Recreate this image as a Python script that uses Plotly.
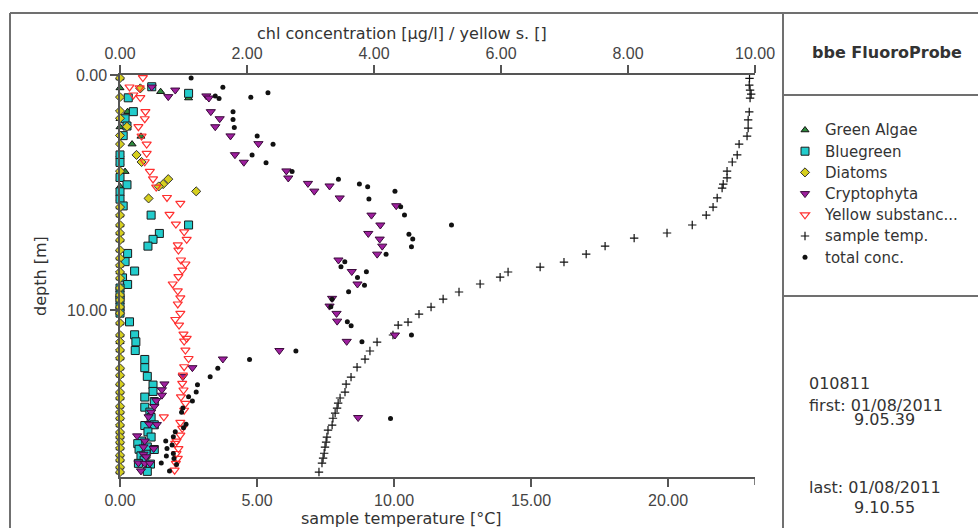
import plotly.graph_objects as go

# ---------------- data ----------------
# sample temperature [°C] vs depth [m]  (bottom axis)
temp_depth = [0.14, 0.43, 0.64, 0.81, 0.98, 1.57, 1.91, 2.26, 2.60, 2.94,
              3.40, 3.70, 4.09, 4.38, 4.64, 4.81, 5.23, 5.62, 5.96, 6.38,
              6.72, 6.94, 7.28, 7.62, 7.96, 8.17, 8.38, 8.60, 8.89, 9.23,
              9.53, 9.87, 10.17, 10.51, 10.64, 11.06, 11.36, 11.74, 12.09, 12.43,
              12.85, 13.15, 13.49, 13.74, 13.96, 14.17, 14.38, 14.60, 14.89, 15.11,
              15.40, 15.62, 15.83, 16.09, 16.30, 16.51, 16.89]
temp_value = [22.97, 22.96, 22.99, 23.03, 22.99, 22.96, 22.92, 22.92, 22.88, 22.59,
              22.52, 22.34, 22.15, 22.15, 22.01, 21.97, 21.79, 21.64, 21.39, 20.88,
              19.96, 18.76, 17.70, 17.01, 16.20, 15.33, 14.16, 13.87, 13.14, 12.37,
              11.79, 11.35, 10.91, 10.51, 10.15, 9.96, 9.38, 9.12, 8.94, 8.65,
              8.43, 8.25, 8.21, 8.03, 7.96, 7.92, 7.85, 7.77, 7.74, 7.59,
              7.55, 7.52, 7.48, 7.45, 7.41, 7.37, 7.26]

# total chl concentration [µg/l] (top axis)
total_depth = [0.13, 0.52, 0.75, 0.89, 0.95, 1.00, 1.56, 1.89, 2.23, 2.60,
               2.95, 3.40, 3.73, 4.11, 4.43, 4.64, 4.75, 4.94, 5.27, 5.60,
               5.96, 6.38, 6.77, 6.98, 7.31, 7.62, 7.94, 8.16, 8.37, 8.61,
               8.94, 9.22, 9.54, 9.86, 10.50, 10.67, 11.06, 11.35, 11.74, 12.10,
               12.47, 12.84, 13.18, 13.48, 13.69, 13.87, 14.17, 14.35, 14.61, 14.86,
               15.01, 15.18, 15.39, 15.57, 15.74, 15.89, 16.10, 16.21, 16.31, 16.50,
               16.57, 16.85]
total_conc = [1.12, 1.62, 2.33, 1.50, 2.06, 1.56, 1.78, 1.78, 1.80, 2.16,
              2.41, 2.08, 2.30, 2.71, 3.44, 3.77, 3.90, 4.33, 3.92, 4.42,
              4.48, 5.22, 4.55, 4.61, 4.59, 4.19, 3.54, 3.48, 3.88, 3.74,
              3.85, 3.60, 3.34, 3.32, 3.58, 3.64, 4.59, 3.81, 2.77, 2.04,
              1.54, 1.42, 1.22, 1.20, 1.08, 1.14, 0.99, 0.97, 4.26, 1.04,
              1.00, 0.87, 0.84, 0.72, 0.82, 0.74, 0.84, 0.73, 0.85, 0.65,
              0.89, 0.78]

# Cryptophyta
crypto_depth = [0.51, 0.64, 0.92, 0.89, 0.98, 1.56, 1.86, 2.20, 2.59, 2.92,
                3.39, 3.71, 4.08, 4.38, 4.61, 4.72, 4.94, 5.23, 5.56, 5.96,
                6.38, 6.74, 6.98, 7.28, 7.62, 7.87, 8.36, 8.89, 9.50, 9.83,
                10.14, 10.47, 11.06, 11.33, 11.72, 12.08, 12.45, 12.83, 13.14, 13.39,
                13.62, 13.85, 14.10, 14.34, 14.54, 14.57, 14.85, 14.87, 15.35, 15.57,
                15.82, 15.89, 16.13, 16.24, 16.50, 16.52, 16.52, 16.84]
crypto_conc = [0.50, 0.87, 0.76, 1.36, 1.40, 1.43, 1.57, 1.50, 1.74, 2.18,
               1.81, 1.95, 2.62, 2.65, 2.96, 3.30, 3.06, 3.46, 4.35, 3.96,
               4.10, 3.91, 4.09, 4.13, 4.05, 3.44, 3.65, 3.74, 3.34, 3.30,
               3.41, 3.42, 4.33, 3.57, 2.51, 1.62, 1.14, 0.99, 0.70, 0.66,
               0.66, 0.57, 0.54, 0.49, 0.45, 3.75, 0.46, 0.58, 0.27, 0.39,
               0.37, 0.53, 0.37, 0.41, 0.29, 0.39, 0.47, 0.33]

# Yellow substance
yellow_depth = [0.11, 0.51, 0.55, 0.85, 0.96, 1.56, 1.86, 2.20, 2.60, 2.94,
                3.33, 3.69, 4.10, 4.42, 4.77, 5.21, 5.46, 5.93, 6.34, 6.67,
                6.99, 7.23, 7.45, 7.87, 8.04, 8.30, 8.58, 8.89, 9.18, 9.48,
                9.74, 10.14, 10.40, 10.64, 11.02, 11.20, 11.32, 11.70, 12.06, 12.41,
                12.77, 13.12, 13.40, 13.69, 13.97, 14.26, 14.54, 14.78, 15.03, 15.32,
                15.57, 15.67, 15.89, 16.10, 16.31, 16.52, 16.81]
yellow_conc = [0.36, 0.15, 0.31, 0.21, 0.32, 0.40, 0.39, 0.29, 0.34, 0.42,
               0.42, 0.39, 0.47, 0.52, 0.57, 0.74, 0.95, 0.78, 0.88, 1.01,
               1.05, 0.91, 0.92, 0.96, 1.03, 0.98, 0.92, 0.83, 0.91, 0.95,
               0.91, 0.95, 0.87, 0.93, 1.00, 1.05, 1.01, 1.03, 1.08, 1.01,
               0.99, 0.98, 1.00, 0.96, 1.03, 1.01, 0.69, 0.95, 0.98, 0.95,
               0.89, 0.87, 0.92, 0.89, 0.91, 0.88, 0.86]

# Bluegreen
blue_depth = [0.50, 0.78, 0.97, 1.56, 1.86, 2.17, 2.58, 3.40, 3.72, 4.36,
              4.67, 4.97, 5.28, 5.57, 5.96, 6.38, 6.74, 6.99, 7.28, 7.59,
              7.94, 8.34, 8.63, 8.91, 9.06, 9.36, 9.57, 9.87, 10.13, 10.50,
              11.05, 11.35, 11.72, 12.10, 12.45, 12.82, 13.19, 13.46, 13.70, 13.89,
              14.13, 14.34, 14.57, 14.88, 14.91, 15.18, 15.40, 15.57, 15.68, 15.82,
              15.92, 15.93, 16.13, 16.20, 16.38, 16.52, 16.55, 16.86]
blue_conc = [0.50, 1.08, 0.13, 0.21, 0.08, 0.11, 0.05, 0.00, 0.00, 0.00,
             0.11, 0.00, 0.00, 0.05, 0.49, 1.08, 0.62, 0.52, 0.44, 0.12,
             0.08, 0.23, 0.04, 0.12, 0.00, 0.00, 0.00, 0.00, 0.00, 0.15,
             0.23, 0.25, 0.24, 0.39, 0.39, 0.43, 0.52, 0.52, 0.39, 0.54,
             0.39, 0.47, 0.49, 0.54, 0.39, 0.44, 0.49, 0.34, 0.28, 0.43,
             0.30, 0.54, 0.41, 0.33, 0.38, 0.29, 0.48, 0.43]

# Green Algae
green_depth = [0.13, 0.55, 0.71, 0.98, 1.56, 1.86, 2.21, 2.61, 2.94, 3.40,
               3.72, 4.11, 4.40, 4.75, 5.25, 5.62, 5.96, 6.38, 6.72, 7.02,
               7.45, 7.79, 8.09, 8.38, 8.64, 9.06, 9.36, 9.57, 9.87, 10.13,
               10.55, 11.06, 11.35, 11.70, 12.04, 12.47, 12.77, 13.15, 13.49, 13.74,
               14.09, 14.34, 14.60, 14.89, 15.19, 15.40, 15.62, 15.87, 16.17, 16.38,
               16.68, 16.89]
green_conc = [0.00, 0.00, 0.64, 1.08, 0.12, 0.00, 0.00, 0.33, 0.19, 0.00,
              0.00, 0.08, 0.00, 0.00, 0.00, 0.00, 0.00, 0.00, 0.00, 0.00,
              0.00, 0.00, 0.00, 0.00, 0.00, 0.00, 0.00, 0.00, 0.00, 0.00,
              0.00, 0.00, 0.00, 0.00, 0.00, 0.00, 0.00, 0.00, 0.00, 0.00,
              0.00, 0.00, 0.00, 0.00, 0.00, 0.00, 0.00, 0.00, 0.00, 0.00,
              0.00, 0.00]

# Diatoms
diatom_depth = [0.13, 0.57, 0.94, 1.53, 1.84, 2.20, 2.57, 2.94, 3.40, 3.70,
                4.09, 4.43, 4.64, 4.74, 4.95, 5.25, 5.62, 5.96, 6.38, 6.72,
                7.02, 7.45, 7.79, 8.09, 8.38, 8.64, 9.06, 9.36, 9.57, 9.87,
                10.13, 10.55, 11.06, 11.35, 11.70, 12.04, 12.47, 12.77, 13.15, 13.49,
                13.74, 14.09, 14.34, 14.60, 14.89, 15.19, 15.40, 15.62, 15.87, 16.17,
                16.38, 16.68, 16.89]
diatom_conc = [0.00, 0.32, 0.00, 0.00, 0.00, 0.11, 0.00, 0.00, 0.26, 0.34,
               0.00, 0.76, 0.68, 0.61, 1.20, 0.45, 0.00, 0.00, 0.00, 0.00,
               0.00, 0.00, 0.00, 0.00, 0.00, 0.00, 0.00, 0.00, 0.00, 0.00,
               0.00, 0.00, 0.00, 0.00, 0.00, 0.00, 0.00, 0.00, 0.00, 0.00,
               0.00, 0.00, 0.00, 0.00, 0.00, 0.00, 0.00, 0.00, 0.00, 0.00,
               0.00, 0.00, 0.00]

for a, b in [(temp_depth, temp_value), (total_depth, total_conc), (crypto_depth, crypto_conc),
             (yellow_depth, yellow_conc), (blue_depth, blue_conc), (green_depth, green_conc),
             (diatom_depth, diatom_conc)]:
    assert len(a) == len(b), (len(a), len(b))

conc_ticks = [0, 2, 4, 6, 8, 10]
temp_ticks = [0, 5, 10, 15, 20]
depth_ticks = [0, 10]
CONC_MAX = 10.0
TEMP_MAX = 23.17
DEPTH_MAX = 17.1

# ---------------- figure ----------------
W, H = 978, 528
FONT = "DejaVu Sans"
TICKFONT = "Liberation Sans"
TXT = "#333333"
AX = "#555555"

def px(x):
    return x / W

def py(y):
    return 1 - y / H

def lname(s):
    return '<span style="font-size:15px">' + s + '</span>'

fig = go.Figure()

def add(name, x, y, axis, marker):
    fig.add_trace(go.Scatter(x=x, y=y, xaxis=axis, yaxis="y", mode="markers",
                             name=lname(name), marker=marker, cliponaxis=False,
                             hoverinfo="x+y"))

add("Green Algae", green_conc, green_depth, "x2",
    dict(symbol="triangle-up", size=7, color="#2E8B3E", line=dict(color="#111", width=1)))
add("Bluegreen", blue_conc, blue_depth, "x2",
    dict(symbol="square", size=8, color="#22CCCC", line=dict(color="#1A1A1A", width=1)))
add("Diatoms", diatom_conc, diatom_depth, "x2",
    dict(symbol="diamond", size=7, color="#D6CF1E", line=dict(color="#333", width=1)))
add("Cryptophyta", crypto_conc, crypto_depth, "x2",
    dict(symbol="triangle-down", size=8, color="#9E1F9E", line=dict(color="#3A0A3A", width=1)))
add("Yellow substanc...", yellow_conc, yellow_depth, "x2",
    dict(symbol="triangle-down-open", size=8, color="#FF3030", line=dict(color="#FF3030", width=1.2)))
add("sample temp.", temp_value, temp_depth, "x",
    dict(symbol="cross-thin", size=6, color="#111", line=dict(color="#111", width=1.2)))
add("total conc.", total_conc, total_depth, "x2",
    dict(symbol="circle", size=5, color="#111", line=dict(width=0)))

x0p, x1p = 120, 755
y0p, y1p = 75, 477
xdom = [px(x0p), px(x1p)]
ydom = [py(y1p), py(y0p)]

axis_common = dict(showline=True, linecolor=AX, linewidth=1.5, ticks="outside",
                   ticklen=8, tickcolor=AX, tickwidth=1.5, showgrid=False, zeroline=False,
                   automargin=False, tickformat=".2f",
                   tickfont=dict(family=TICKFONT, size=16, color="#444"))

fig.update_layout(
    width=W, height=H, autosize=False,
    margin=dict(l=0, r=0, t=0, b=0, pad=0),
    paper_bgcolor="white", plot_bgcolor="white",
    xaxis=dict(domain=xdom, range=[0, TEMP_MAX], tickvals=temp_ticks, anchor="y",
               side="bottom", **axis_common),
    xaxis2=dict(domain=xdom, range=[0, CONC_MAX], tickvals=conc_ticks, anchor="y",
                overlaying="x", side="top", **axis_common),
    yaxis=dict(domain=ydom, range=[DEPTH_MAX, 0], tickvals=depth_ticks, anchor="x",
               **axis_common),
    showlegend=True,
    legend=dict(x=px(785), y=py(114.4), xanchor="left", yanchor="top",
                font=dict(family=FONT, size=14, color=TXT),
                bgcolor="rgba(0,0,0,0)", borderwidth=0, itemclick=False),
)

ann = [
    dict(text="chl concentration [µg/l] / yellow s. []", x=px(402), y=py(33), size=16),
    dict(text="sample temperature [°C]", x=px(401), y=py(518), size=16),
    dict(text="depth [m]", x=px(40), y=py(276), textangle=-90, size=16),
    dict(text="<b>bbe FluoroProbe</b>", x=px(887), y=py(53), size=16),
    dict(text="010811", x=px(807), y=py(383), xanchor="left", size=16),
    dict(text="first: 01/08/2011", x=px(807), y=py(405), xanchor="left", size=16),
    dict(text="9.05.39", x=px(852), y=py(419), xanchor="left", size=16),
    dict(text="last: 01/08/2011", x=px(807), y=py(487), xanchor="left", size=16),
    dict(text="9.10.55", x=px(852), y=py(507), xanchor="left", size=16),
]
for a in ann:
    size = a.pop("size")
    a.setdefault("xanchor", "center")
    fig.add_annotation(yanchor="middle", xref="paper", yref="paper", showarrow=False,
                       font=dict(family=FONT, size=size, color=TXT), **a)

FR = "#707070"
def line(xa, ya, xb, yb, color=FR, width=2):
    fig.add_shape(type="line", xref="paper", yref="paper",
                  x0=px(xa), y0=py(ya), x1=px(xb), y1=py(yb),
                  line=dict(color=color, width=width))

line(10, 13, 978, 13)
line(10, 13, 10, 528)
line(783, 13, 783, 528)
line(783, 95, 978, 95)
line(783, 296, 978, 296)
# end tick of the temperature axis
fig.add_shape(type="line", xref="x", yref="paper", x0=TEMP_MAX, x1=TEMP_MAX,
              y0=py(y1p), y1=py(y1p + 8), line=dict(color=AX, width=1.5))

fig.write_html("out.html", config={"displayModeBar": False},
               post_script="document.body.style.margin='0px';document.body.style.overflow='hidden';")
